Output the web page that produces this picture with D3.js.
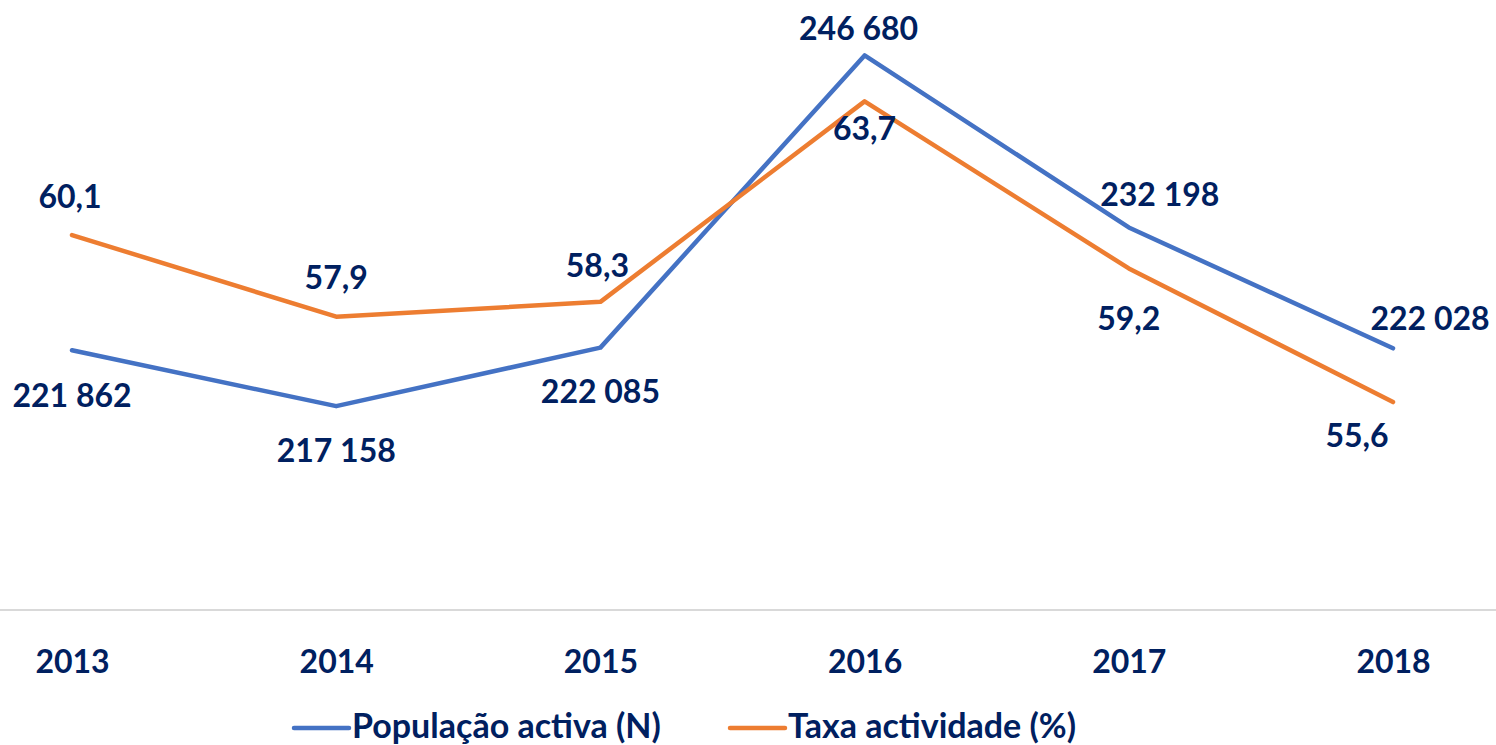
<!DOCTYPE html>
<html lang="pt">
<head>
<meta charset="utf-8">
<title>População activa e taxa de actividade</title>
<script src="https://cdn.jsdelivr.net/npm/d3@7"></script>
<style>
  body { margin: 0; background: #fff; }
  text { font-family: Lato, "Open Sans", sans-serif; font-weight: 700; fill: #002060; }
</style>
</head>
<body>
<script>
// data
var years = ["2013", "2014", "2015", "2016", "2017", "2018"];
var populacao = [221862, 217158, 222085, 246680, 232198, 222028];
var taxa = [60.1, 57.9, 58.3, 63.7, 59.2, 55.6];
var seriesNames = ["População activa (N)", "Taxa actividade (%)"];

// label nudges (dx, dy from point), as placed in the original
var popLabelOffset = [[0, 44], [0, 43], [0, 43], [-6, -28], [31, -34], [37, -31]];
var taxaLabelOffset = [[-2, -40], [0, -40], [-3, -37], [0, 26], [0, 49], [-36, 32]];

var W = 1496, H = 745;
var blue = "#4472C4", orange = "#ED7D31";

var svg = d3.select("body").append("svg")
    .attr("width", W)
    .attr("height", H);

var x = d3.scalePoint()
    .domain(years)
    .range([72, 1393]);

var yPop = d3.scaleLinear()
    .domain([200000, 250000])
    .range([610, 16]);

var yTaxa = d3.scaleLinear()
    .domain([50, 66])
    .range([610, 16]);

// baseline
svg.append("line")
    .attr("x1", 0).attr("x2", W)
    .attr("y1", yPop(200000)).attr("y2", yPop(200000))
    .style("stroke", "#d9d9d9")
    .style("stroke-width", 2);

// year labels
var xAxis = svg.append("g")
    .attr("transform", "translate(0," + 660 + ")")
    .call(d3.axisBottom(x).tickSize(0).tickPadding(0));
xAxis.select(".domain").remove();
xAxis.selectAll("text")
    .attr("dy", null)
    .attr("dominant-baseline", "central")
    .style("font-size", "32px")
    .style("font-family", "Lato, sans-serif")
    .style("font-weight", 700)
    .style("fill", "#002060");

var linePop = d3.line()
    .x(function(d, i) { return x(years[i]); })
    .y(function(d) { return yPop(d); });

var lineTaxa = d3.line()
    .x(function(d, i) { return x(years[i]); })
    .y(function(d) { return yTaxa(d); });

svg.append("path")
    .datum(populacao)
    .attr("d", linePop)
    .style("fill", "none")
    .style("stroke", blue)
    .style("stroke-width", 4.5)
    .style("stroke-linecap", "round")
    .style("stroke-linejoin", "round");

svg.append("path")
    .datum(taxa)
    .attr("d", lineTaxa)
    .style("fill", "none")
    .style("stroke", orange)
    .style("stroke-width", 4.5)
    .style("stroke-linecap", "round")
    .style("stroke-linejoin", "round");

var fmtPop = function(v) { return d3.format(",")(v).replace(/,/g, " "); };
var fmtTaxa = function(v) { return d3.format(".1f")(v).replace(".", ","); };

svg.selectAll(".lbl-pop")
    .data(populacao)
    .enter()
    .append("text")
    .attr("class", "lbl-pop")
    .attr("x", function(d, i) { return x(years[i]) + popLabelOffset[i][0]; })
    .attr("y", function(d, i) { return yPop(d) + popLabelOffset[i][1]; })
    .attr("text-anchor", "middle")
    .attr("dominant-baseline", "central")
    .style("font-size", "32px")
    .text(fmtPop);

svg.selectAll(".lbl-taxa")
    .data(taxa)
    .enter()
    .append("text")
    .attr("class", "lbl-taxa")
    .attr("x", function(d, i) { return x(years[i]) + taxaLabelOffset[i][0]; })
    .attr("y", function(d, i) { return yTaxa(d) + taxaLabelOffset[i][1]; })
    .attr("text-anchor", "middle")
    .attr("dominant-baseline", "central")
    .style("font-size", "32px")
    .text(fmtTaxa);

// legend
var legendX = [294, 730];
var legend = svg.selectAll(".legend")
    .data(seriesNames)
    .enter()
    .append("g")
    .attr("class", "legend")
    .attr("transform", function(d, i) { return "translate(" + legendX[i] + ",724)"; });

legend.append("line")
    .attr("x1", 0).attr("x2", 55)
    .attr("y1", 4).attr("y2", 4)
    .style("stroke", function(d, i) { return i === 0 ? blue : orange; })
    .style("stroke-width", 4.5)
    .style("stroke-linecap", "round");

legend.append("text")
    .attr("x", 58)
    .attr("y", 0)
    .attr("dominant-baseline", "central")
    .style("font-size", "34px")
    .text(function(d) { return d; });
</script>
</body>
</html>
